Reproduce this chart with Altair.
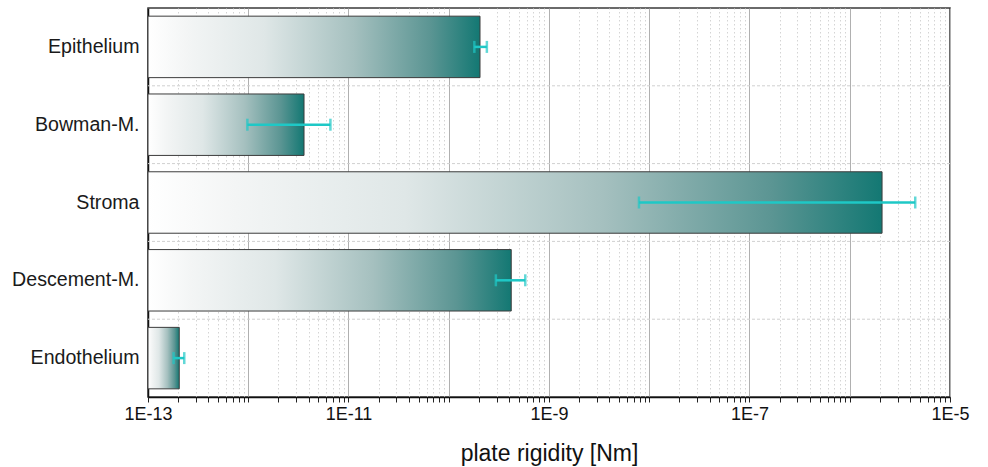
import altair as alt
import pandas as pd

categories = ["Epithelium", "Bowman-M.", "Stroma", "Descement-M.", "Endothelium"]
rigidity = [2.05e-10, 3.6e-12, 2.1e-6, 4.2e-10, 2.05e-13]
err_low = [1.8e-10, 9.8e-13, 7.9e-9, 2.95e-10, 1.8e-13]
err_high = [2.4e-10, 6.6e-12, 4.5e-6, 5.8e-10, 2.3e-13]

x_min, x_max = 1e-13, 1e-5
x_ticks = [m * 10.0 ** e for e in range(-13, -5) for m in range(1, 10)] + [x_max]

df = pd.DataFrame({"cat": categories, "val": rigidity, "lo": err_low, "hi": err_high})
grid_df = pd.DataFrame({"cat": categories[1:]})

FONT = "Liberation Sans"
TEAL = "#137873"
ERR = "#1ec8c6"

major_test = "abs(log(datum.value)/LN10 - round(log(datum.value)/LN10)) < 0.001"
label_expr = (
    f"({major_test}) && abs(round(log(datum.value)/LN10)) % 2 == 1 ? "
    "'1E' + round(log(datum.value)/LN10) : ''"
)

xscale = alt.Scale(type="log", domain=[x_min, x_max], nice=False)
yscale = alt.Scale(domain=categories, paddingInner=0, paddingOuter=0)

x_axis = alt.Axis(
    values=x_ticks,
    labelExpr=label_expr,
    labelOverlap=False,
    labelFlush=False,
    labelFont=FONT,
    labelFontSize=18,
    labelColor="#111111",
    labelPadding=3,
    title="plate rigidity [Nm]",
    titleFont=FONT,
    titleFontSize=23,
    titleFontWeight="normal",
    titleColor="#111111",
    titlePadding=19,
    domainColor="#111111",
    domainWidth=1.5,
    tickColor="#222222",
    tickSize=5,
    grid=True,
    gridColor={"condition": {"test": major_test, "value": "#b0b0b0"}, "value": "#d4d4d4"},
    gridDash={"condition": {"test": major_test, "value": []}, "value": [1.5, 2.5]},
    gridWidth=1,
)

y_axis = alt.Axis(
    title=None,
    labelFont=FONT,
    labelFontSize=19.6,
    labelColor="#1a1a1a",
    labelPadding=9,
    ticks=False,
    grid=False,
    domainColor="#111111",
    domainWidth=1.5,
)

gridlines = alt.Chart(grid_df).mark_rule(color="#d0d0d0", strokeDash=[3, 2], strokeWidth=1).encode(
    y=alt.Y("cat:N", bandPosition=0, scale=yscale, sort=categories, axis=y_axis)
)

bars = alt.Chart(df).mark_bar(
    height=alt.RelativeBandSize(0.79),
    stroke="#3c3c3c",
    strokeWidth=1,
    color=alt.Gradient(
        gradient="linear",
        x1=0, x2=1, y1=0, y2=0,
        stops=[
            alt.GradientStop(color="#ffffff", offset=0),
            alt.GradientStop(color="#f3f5f5", offset=0.12),
            alt.GradientStop(color="#dfe7e7", offset=0.35),
            alt.GradientStop(color="#a5c0bf", offset=0.62),
            alt.GradientStop(color="#5b9593", offset=0.85),
            alt.GradientStop(color=TEAL, offset=1),
        ],
    ),
).encode(
    x=alt.X("val:Q", scale=xscale, axis=x_axis),
    x2=alt.X2(datum=x_min),
    y=alt.Y("cat:N", scale=yscale, sort=categories, axis=y_axis),
)

err_line = alt.Chart(df).mark_rule(color=ERR, strokeWidth=2.5).encode(
    x=alt.X("lo:Q", scale=xscale),
    x2="hi:Q",
    y=alt.Y("cat:N", scale=yscale, sort=categories),
)
cap_lo = alt.Chart(df).mark_tick(color=ERR, thickness=2.5, size=12, orient="vertical").encode(
    x=alt.X("lo:Q", scale=xscale),
    y=alt.Y("cat:N", scale=yscale, sort=categories),
)
cap_hi = alt.Chart(df).mark_tick(color=ERR, thickness=2.5, size=12, orient="vertical").encode(
    x=alt.X("hi:Q", scale=xscale),
    y=alt.Y("cat:N", scale=yscale, sort=categories),
)

chart = alt.layer(gridlines, bars, err_line, cap_lo, cap_hi).properties(
    width=802,
    height=389,
    autosize=alt.AutoSizeParams(type="none"),
    padding={"left": 148, "top": 8, "right": 38, "bottom": 70},
    background="white",
).configure_view(stroke="#3a3a3a", strokeWidth=1.5)

chart.save("out.html", embed_options={"renderer": "svg", "actions": False})
